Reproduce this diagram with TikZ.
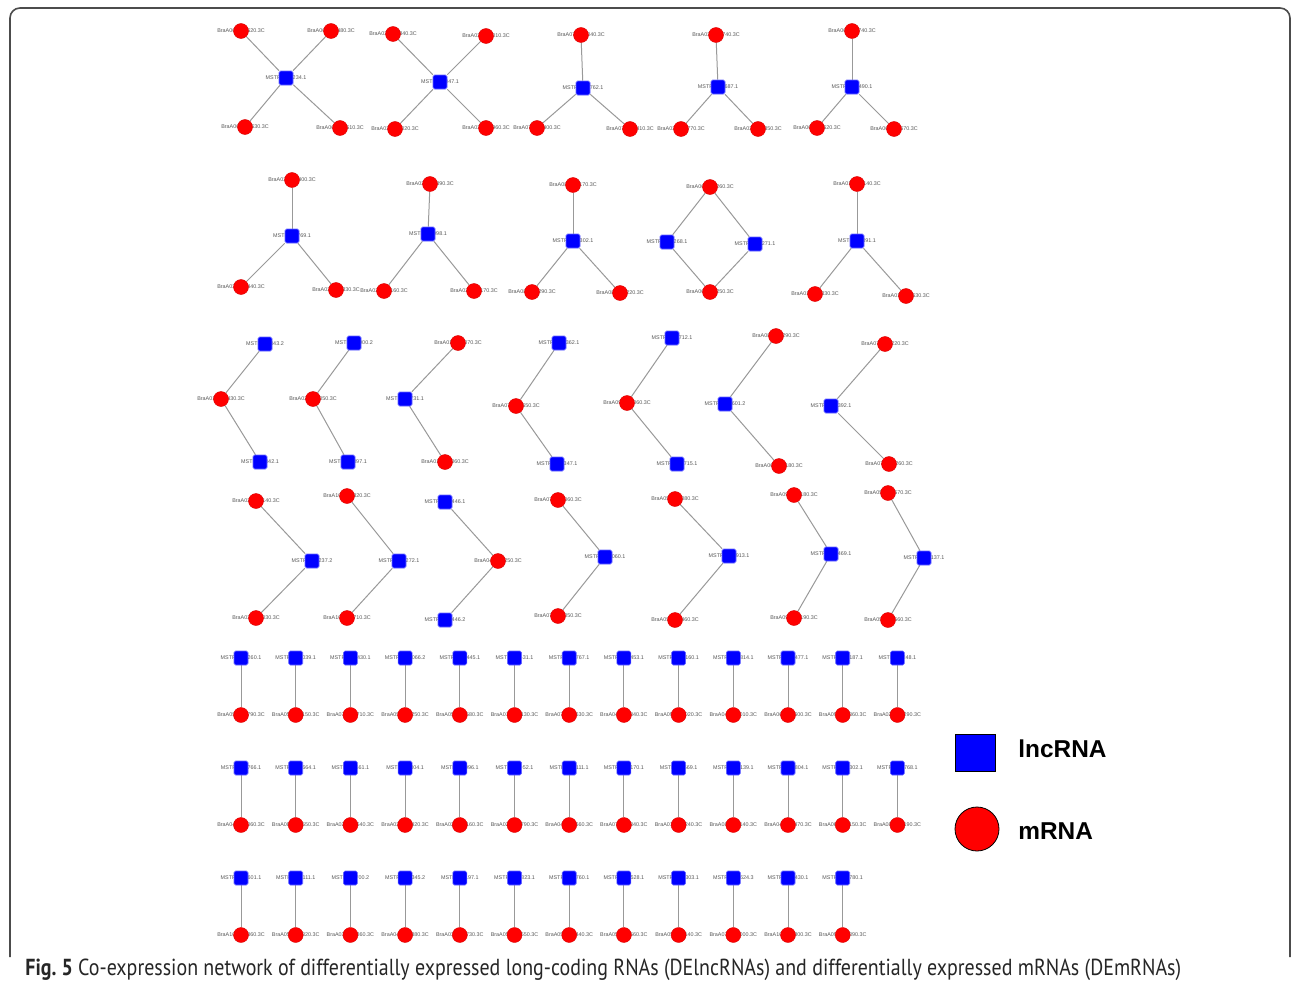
\documentclass[tikz,border=0pt]{standalone}
\usepackage{fontspec}
\setmainfont{Liberation Sans}
\newfontfamily\capfont[FakeStretch=0.86]{PT Sans}
\pgfdeclarelayer{bg}
\pgfdeclarelayer{txt}
\pgfdeclarelayer{edges}
\pgfsetlayers{bg,txt,edges,main}
\tikzset{
  mrnanode/.style={circle, fill=red, draw=red!85!black, line width=0.2pt, minimum size=7.5pt, inner sep=0},
  lncnode/.style={rectangle, rounded corners=0.8pt, fill=blue, draw=blue!60!white, line width=0.3pt, minimum size=7pt, inner sep=0},
  lbl/.style={font=\fontsize{2.7}{3}\selectfont, text=black!65, inner sep=0},
  edge/.style={draw=black!40, line width=0.5pt},
  legtext/.style={anchor=west, inner sep=0, font=\bfseries\fontsize{12.2}{14}\selectfont},
}
\newcommand\MRN[3]{\begin{pgfonlayer}{txt}\node[lbl] at (#2) {#3};\end{pgfonlayer}\node[mrnanode] (#1) at (#2) {};}
\newcommand\LNC[3]{\begin{pgfonlayer}{txt}\node[lbl] at (#2) {#3};\end{pgfonlayer}\node[lncnode] (#1) at (#2) {};}
\newcommand\E[2]{\begin{pgfonlayer}{edges}\draw[edge] (#1) -- (#2);\end{pgfonlayer}}
\begin{document}
\begin{tikzpicture}[x=0.5pt, y=-0.5pt]
\useasboundingbox (0,0) rectangle (1292,985);
\begin{pgfonlayer}{bg}\fill[white] (0,0) rectangle (1292,985);\end{pgfonlayer}
\draw[black!70, line width=0.8pt, rounded corners=5pt] (10,957) -- (10,8) -- (1290,8) -- (1290,957);
% ---------- row 1
\LNC{g1s}{286,78}{MSTRG.18234.1}
\MRN{g1a}{241,31}{BraA06g041620.3C}\MRN{g1b}{331,31}{BraA06g041480.3C}
\MRN{g1c}{245,127}{BraA06g041630.3C}\MRN{g1d}{340,128}{BraA06g041510.3C}
\E{g1s}{g1a}\E{g1s}{g1b}\E{g1s}{g1c}\E{g1s}{g1d}
\LNC{g2s}{440,82}{MSTRG.8047.1}
\MRN{g2a}{393,34}{BraA03g041840.3C}\MRN{g2b}{486,36}{BraA03g042010.3C}
\MRN{g2c}{395,129}{BraA03g042020.3C}\MRN{g2d}{486,128}{BraA03g041960.3C}
\E{g2s}{g2a}\E{g2s}{g2b}\E{g2s}{g2c}\E{g2s}{g2d}
\LNC{g3s}{583,88}{MSTRG.20762.1}
\MRN{g3a}{581,35}{BraA07g034040.3C}\MRN{g3b}{537,128}{BraA07g034400.3C}\MRN{g3c}{630,129}{BraA07g034410.3C}
\E{g3s}{g3a}\E{g3s}{g3b}\E{g3s}{g3c}
\LNC{g4s}{718,87}{MSTRG.11687.1}
\MRN{g4a}{716,35}{BraA03g022740.3C}\MRN{g4b}{681,129}{BraA03g022770.3C}\MRN{g4c}{758,129}{BraA03g022850.3C}
\E{g4s}{g4a}\E{g4s}{g4b}\E{g4s}{g4c}
\LNC{g5s}{852,87}{MSTRG.14490.1}
\MRN{g5a}{852,31}{BraA06g031740.3C}\MRN{g5b}{817,128}{BraA06g031620.3C}\MRN{g5c}{894,129}{BraA06g031670.3C}
\E{g5s}{g5a}\E{g5s}{g5b}\E{g5s}{g5c}
% ---------- row 2
\LNC{g6s}{292,236}{MSTRG.9769.1}
\MRN{g6a}{292,180}{BraA03g043400.3C}\MRN{g6b}{241,287}{BraA03g043440.3C}\MRN{g6c}{336,290}{BraA03g043330.3C}
\E{g6s}{g6a}\E{g6s}{g6b}\E{g6s}{g6c}
\LNC{g7s}{428,234}{MSTRG.5998.1}
\MRN{g7a}{430,184}{BraA02g032890.3C}\MRN{g7b}{384,291}{BraA02g033160.3C}\MRN{g7c}{474,291}{BraA02g033170.3C}
\E{g7s}{g7a}\E{g7s}{g7b}\E{g7s}{g7c}
\LNC{g8s}{573,241}{MSTRG.22302.1}
\MRN{g8a}{573,185}{BraA08g028170.3C}\MRN{g8b}{532,292}{BraA08g028290.3C}\MRN{g8c}{620,293}{BraA08g028220.3C}
\E{g8s}{g8a}\E{g8s}{g8b}\E{g8s}{g8c}
\MRN{g9a}{710,187}{BraA06g010260.3C}\MRN{g9b}{710,292}{BraA06g010250.3C}
\LNC{g9s}{667,242}{MSTRG.16268.1}\LNC{g9t}{755,244}{MSTRG.16271.1}
\E{g9s}{g9a}\E{g9s}{g9b}\E{g9t}{g9a}\E{g9t}{g9b}
\LNC{g10s}{857,241}{MSTRG.3391.1}
\MRN{g10a}{857,184}{BraA01g032140.3C}\MRN{g10b}{815,294}{BraA01g033330.3C}\MRN{g10c}{906,296}{BraA01g033630.3C}
\E{g10s}{g10a}\E{g10s}{g10b}\E{g10s}{g10c}
% ---------- row 3
\LNC{g11a}{265,344}{MSTRG.2843.2}\MRN{g11m}{221,399}{BraA01g037430.3C}\LNC{g11b}{260,462}{MSTRG.2842.1}
\E{g11m}{g11a}\E{g11m}{g11b}
\LNC{g12a}{354,343}{MSTRG.5900.2}\MRN{g12m}{313,399}{BraA02g040050.3C}\LNC{g12b}{348,462}{MSTRG.5897.1}
\E{g12m}{g12a}\E{g12m}{g12b}
\MRN{g13a}{458,343}{BraA01g040070.3C}\LNC{g13m}{405,399}{MSTRG.2731.1}\MRN{g13b}{445,462}{BraA01g040060.3C}
\E{g13m}{g13a}\E{g13m}{g13b}
\LNC{g14a}{559,343}{MSTRG.25362.1}\MRN{g14m}{516,406}{BraA07g028650.3C}\LNC{g14b}{557,464}{MSTRG.25347.1}
\E{g14m}{g14a}\E{g14m}{g14b}
\LNC{g15a}{672,338}{MSTRG.25712.1}\MRN{g15m}{627,403}{BraA09g027060.3C}\LNC{g15b}{677,464}{MSTRG.25715.1}
\E{g15m}{g15a}\E{g15m}{g15b}
\MRN{g16a}{776,336}{BraA08g032290.3C}\LNC{g16m}{725,404}{MSTRG.17601.2}\MRN{g16b}{779,466}{BraA06g032180.3C}
\E{g16m}{g16a}\E{g16m}{g16b}
\MRN{g17a}{885,344}{BraA07g018220.3C}\LNC{g17m}{831,406}{MSTRG.10392.1}\MRN{g17b}{889,464}{BraA07g018260.3C}
\E{g17m}{g17a}\E{g17m}{g17b}
% ---------- row 4
\MRN{g18a}{256,501}{BraA03g069140.3C}\LNC{g18m}{312,561}{MSTRG.10237.2}\MRN{g18b}{256,618}{BraA03g069030.3C}
\E{g18m}{g18a}\E{g18m}{g18b}
\MRN{g19a}{347,496}{BraA10g019820.3C}\LNC{g19m}{399,561}{MSTRG.26272.1}\MRN{g19b}{347,618}{BraA10g019710.3C}
\E{g19m}{g19a}\E{g19m}{g19b}
\LNC{g20a}{445,502}{MSTRG.10446.1}\MRN{g20m}{498,561}{BraA04g000250.3C}\LNC{g20b}{445,620}{MSTRG.10446.2}
\E{g20m}{g20a}\E{g20m}{g20b}
\MRN{g21a}{558,500}{BraA07g038060.3C}\LNC{g21m}{605,557}{MSTRG.26060.1}\MRN{g21b}{558,616}{BraA07g038050.3C}
\E{g21m}{g21a}\E{g21m}{g21b}
\MRN{g22a}{675,499}{BraA05g037080.3C}\LNC{g22m}{729,556}{MSTRG.14913.1}\MRN{g22b}{675,620}{BraA05g037460.3C}
\E{g22m}{g22a}\E{g22m}{g22b}
\MRN{g23a}{794,495}{BraA09g023180.3C}\LNC{g23m}{831,554}{MSTRG.25469.1}\MRN{g23b}{794,618}{BraA09g023190.3C}
\E{g23m}{g23a}\E{g23m}{g23b}
\MRN{g24a}{888,493}{BraA05g025570.3C}\LNC{g24m}{924,558}{MSTRG.22137.1}\MRN{g24b}{888,620}{BraA05g025560.3C}
\E{g24m}{g24a}\E{g24m}{g24b}
% ---------- pair rows
\foreach \s/\m [count=\i from 0] in {MSTRG.14260.1/BraA05g029790.3C, MSTRG.14039.1/BraA05g029150.3C, MSTRG.26430.1/BraA07g029710.3C, MSTRG.14066.2/BraA05g032250.3C, MSTRG.13445.1/BraA05g010580.3C, MSTRG.2531.1/BraA01g037130.3C, MSTRG.16767.1/BraA07g004630.3C, MSTRG.11453.1/BraA04g017840.3C, MSTRG.26160.1/BraA09g036020.3C, MSTRG.10814.1/BraA04g023010.3C, MSTRG.23477.1/BraA06g054600.3C, MSTRG.26187.1/BraA09g036360.3C, MSTRG.3248.1/BraA02g030290.3C}{
  \pgfmathsetmacro\xx{241+54.7*\i}
  \LNC{pa\i}{\xx,658}{\s}\MRN{pb\i}{\xx,715}{\m}\E{pa\i}{pb\i}
}
\foreach \s/\m [count=\i from 0] in {MSTRG.11766.1/BraA04g032060.3C, MSTRG.22664.1/BraA08g025650.3C, MSTRG.4561.1/BraA02g019540.3C, MSTRG.9304.1/BraA03g034420.3C, MSTRG.3996.1/BraA02g007160.3C, MSTRG.4952.1/BraA02g007790.3C, MSTRG.11111.1/BraA04g025560.3C, MSTRG.21170.1/BraA07g028340.3C, MSTRG.2669.1/BraA01g040240.3C, MSTRG.13139.1/BraA08g008140.3C, MSTRG.18804.1/BraA04g008470.3C, MSTRG.16302.1/BraA06g016150.3C, MSTRG.15768.1/BraA08g008190.3C}{
  \pgfmathsetmacro\xx{241+54.7*\i}
  \LNC{qa\i}{\xx,768}{\s}\MRN{qb\i}{\xx,825}{\m}\E{qa\i}{qb\i}
}
\foreach \s/\m [count=\i from 0] in {MSTRG.20601.1/BraA10g032860.3C, MSTRG.21111.1/BraA05g028320.3C, MSTRG.5700.2/BraA03g015860.3C, MSTRG.11345.2/BraA04g016880.3C, MSTRG.3197.1/BraA03g018730.3C, MSTRG.16823.1/BraA05g028550.3C, MSTRG.11760.1/BraA05g019440.3C, MSTRG.22528.1/BraA05g022660.3C, MSTRG.16303.1/BraA05g011140.3C, MSTRG.23624.3/BraA07g031000.3C, MSTRG.26430.1/BraA10g017800.3C, MSTRG.24780.1/BraA09g043390.3C}{
  \pgfmathsetmacro\xx{241+54.7*\i}
  \LNC{ra\i}{\xx,878}{\s}\MRN{rb\i}{\xx,935}{\m}\E{ra\i}{rb\i}
}
% ---------- legend
\node[draw=black, fill=blue, minimum width=20pt, minimum height=18.5pt, inner sep=0, line width=0.4pt] (legl) at (975,753) {};
\node[legtext] (leglt) at (1018,749) {lncRNA};
\node[circle, draw=black, fill=red, minimum size=22pt, inner sep=0, line width=0.4pt] (legm) at (977,829) {};
\node[legtext] (legmt) at (1018,831) {mRNA};
% ---------- caption
\node[anchor=base west, inner sep=0, text=black!85, font=\capfont\fontsize{11.6}{13}\selectfont] (cap) at (25,975) {\textbf{Fig.~5} Co-expression network of differentially expressed long-coding RNAs (DElncRNAs) and differentially expressed mRNAs (DEmRNAs)};
\end{tikzpicture}
\end{document}
